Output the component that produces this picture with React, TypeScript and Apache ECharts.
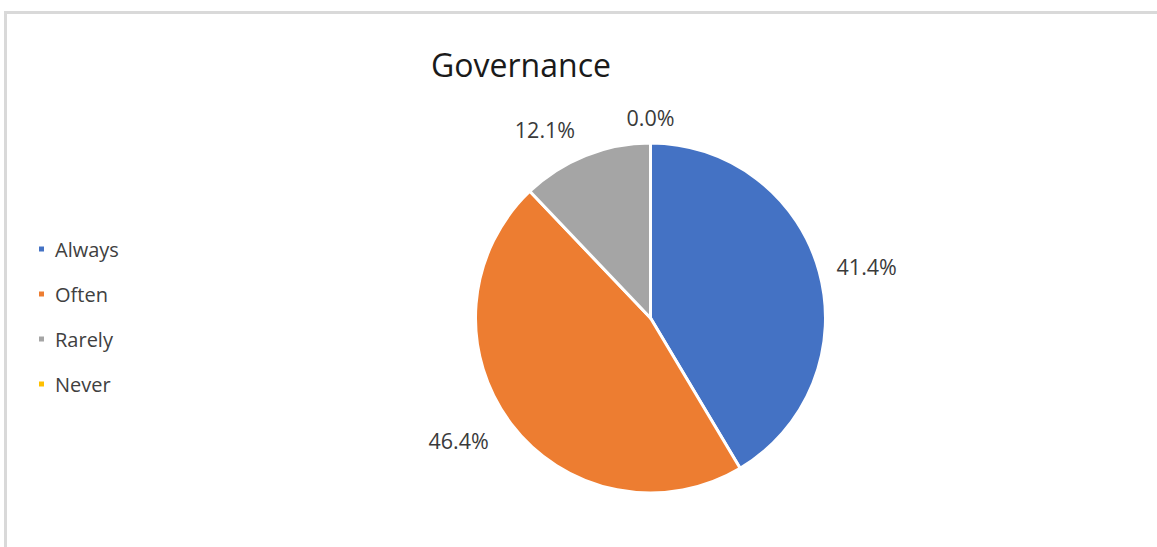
import React, { useEffect, useRef } from "react";
import * as echarts from "echarts";

const categories = ["Always", "Often", "Rarely", "Never"];
const values = [41.4, 46.4, 12.1, 0.0];
const colors = ["#4472C4", "#ED7D31", "#A5A5A5", "#FFC000"];
const labelLineLengths = [18, 28, 28, 26];
const chartTitle = "Governance";

export default function App() {
  const ref = useRef<HTMLDivElement>(null);
  useEffect(() => {
    if (!ref.current) return;
    const chart = echarts.init(ref.current, null, { renderer: "svg" });
    const font = "'Open Sans', 'Noto Sans', sans-serif";
    chart.setOption({
      animation: false,
      backgroundColor: "#ffffff",
      title: {
        text: chartTitle,
        left: 516,
        top: 43,
        textAlign: "center",
        textStyle: { fontFamily: font, fontSize: 32, fontWeight: "normal", color: "#1a1a1a" },
      },
      legend: {
        orient: "vertical",
        left: 32,
        top: 233,
        icon: "rect",
        itemWidth: 7,
        itemHeight: 7,
        itemGap: 23,
        data: categories,
        textStyle: { fontFamily: font, fontSize: 20, color: "#404040", lineHeight: 22, padding: [0, 0, 0, 5] },
      },
      graphic: [
        {
          type: "rect",
          shape: { x: 5.5, y: 12.5, width: 1170, height: 560 },
          style: { fill: "none", stroke: "#d9d9d9", lineWidth: 3 },
          silent: true,
        },
      ],
      series: [
        {
          type: "pie",
          center: [650.5, 318],
          radius: 175,
          startAngle: 90,
          clockwise: true,
          avoidLabelOverlap: false,
          itemStyle: { borderColor: "#ffffff", borderWidth: 3 },
          label: {
            show: true,
            position: "outside",
            fontFamily: font,
            fontSize: 21.5,
            color: "#3a3a3a",
            distanceToLabelLine: 0,
            formatter: (p: any) => `${Number(p.value).toFixed(1)}%`,
          },
          labelLine: { show: false, length: 18, length2: 0 },
          labelLayout: (p: any) => (p.dataIndex === 3 ? { align: "center" } : {}),
          data: categories.map((name, i) => ({
            name,
            value: values[i],
            itemStyle: { color: colors[i] },
            labelLine: { show: false, length: labelLineLengths[i], length2: 0 },
          })),
        },
      ],
    });
    return () => chart.dispose();
  }, []);
  return (
    <div
      ref={ref}
      style={{ position: "fixed", left: 0, top: 0, width: 1157, height: 547 }}
    />
  );
}
